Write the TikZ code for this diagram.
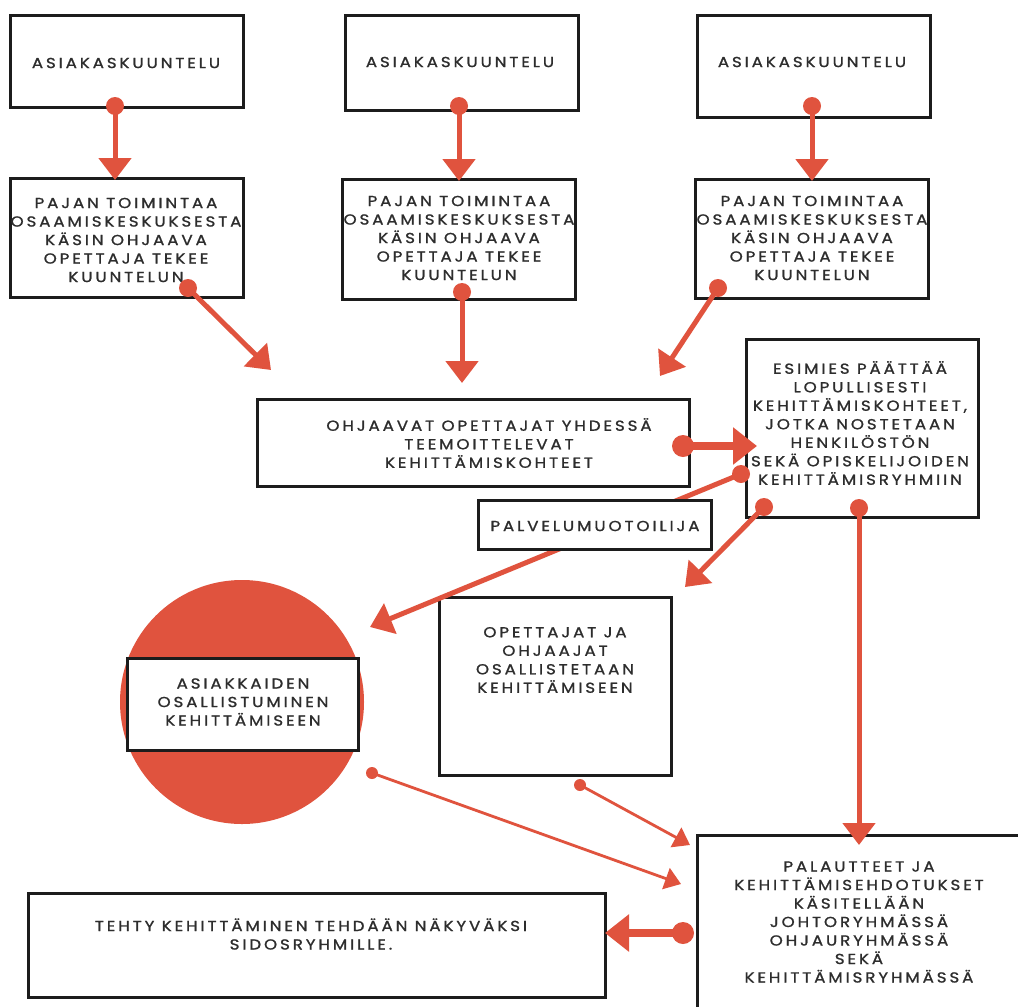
\documentclass[tikz,border=0pt]{standalone}
\usepackage{fontspec}
\newfontfamily\dfont{Poppins}[LetterSpace=20, FakeStretch=1.15, FakeBold=1.2]
\usetikzlibrary{arrows.meta}
\definecolor{accent}{RGB}{224,83,62}
\definecolor{ink}{RGB}{45,45,45}
\definecolor{edge}{RGB}{28,28,28}
\tikzset{
  box/.style={draw=edge, line width=3pt, fill=white, inner sep=0pt, rectangle},
  txt/.style={font=\dfont\fontsize{14.5}{18.5}\selectfont, text=ink, align=center, inner sep=0pt},
  big/.style={draw=accent, line width=5pt, -{Triangle[length=22pt,width=32pt]}},
  heavy/.style={draw=accent, line width=8pt, -{Triangle[length=24pt,width=36pt]}},
  thin/.style={draw=accent, line width=2.8pt, -{Triangle[length=16pt,width=22pt]}},
}
\begin{document}
\begin{tikzpicture}[x=1pt,y=-1pt]
\useasboundingbox (0,0) rectangle (1018,1007);
\clip (0,0) rectangle (1018,1007);
\fill[white] (0,0) rectangle (1018,1007);

% red disc
\node[circle, fill=accent, minimum size=244pt, inner sep=0pt] (disc) at (242,702) {};

% boxes
\node[box, minimum width=233pt, minimum height=92pt]  (A1) at (126.5,61) {};
\node[box, minimum width=233pt, minimum height=95pt]  (A2) at (461.5,62.5) {};
\node[box, minimum width=233pt, minimum height=102pt] (A3) at (813.5,66) {};
\node[box, minimum width=233pt, minimum height=119pt] (P1) at (126.5,237.5) {};
\node[box, minimum width=233pt, minimum height=120pt] (P2) at (458.5,239) {};
\node[box, minimum width=233pt, minimum height=119pt] (P3) at (811.5,238.5) {};
\node[box, minimum width=432pt, minimum height=87pt]  (OH) at (473,442.5) {};
\node[box, minimum width=232pt, minimum height=178pt] (ES) at (862,428) {};
\node[box, minimum width=231pt, minimum height=92pt]  (AS) at (242.5,704) {};
\node[box, minimum width=232pt, minimum height=178pt] (OP) at (555,686) {};
\node[box, minimum width=343pt, minimum height=195pt] (PA) at (868.5,932.5) {};
\node[box, minimum width=577pt, minimum height=104pt] (TE) at (316.5,945) {};

% texts
\node[txt] (tA1) at (126,63) {ASIAKASKUUNTELU};
\node[txt] (tA2) at (460,62) {ASIAKASKUUNTELU};
\node[txt] (tA3) at (812,62) {ASIAKASKUUNTELU};
\node[txt] (tP1) at (126,240) {PAJAN TOIMINTAA\\OSAAMISKESKUKSESTA\\KÄSIN OHJAAVA\\OPETTAJA TEKEE\\KUUNTELUN};
\node[txt] (tP2) at (459,238) {PAJAN TOIMINTAA\\OSAAMISKESKUKSESTA\\KÄSIN OHJAAVA\\OPETTAJA TEKEE\\KUUNTELUN};
\node[txt] (tP3) at (812,238) {PAJAN TOIMINTAA\\OSAAMISKESKUKSESTA\\KÄSIN OHJAAVA\\OPETTAJA TEKEE\\KUUNTELUN};
\node[txt] (tOH) at (489,443) {OHJAAVAT OPETTAJAT YHDESSÄ\\TEEMOITTELEVAT\\KEHITTÄMISKOHTEET};
\node[txt] (tES) at (860,423) {ESIMIES PÄÄTTÄÄ\\LOPULLISESTI\\KEHITTÄMISKOHTEET,\\JOTKA NOSTETAAN\\HENKILÖSTÖN\\SEKÄ OPISKELIJOIDEN\\KEHITTÄMISRYHMIIN};
\node[txt] (tAS) at (243,702) {ASIAKKAIDEN\\OSALLISTUMINEN\\KEHITTÄMISEEN};
\node[txt] (tOP) at (555,660) {OPETTAJAT JA\\OHJAAJAT\\OSALLISTETAAN\\KEHITTÄMISEEN};
\node[txt] (tPA) at (859,922) {PALAUTTEET JA\\KEHITTÄMISEHDOTUKSET\\KÄSITELLÄÄN\\JOHTORYHMÄSSÄ\\OHJAURYHMÄSSÄ\\SEKÄ\\KEHITTÄMISRYHMÄSSÄ};
\node[txt] (tTE) at (311,934) {TEHTY KEHITTÄMINEN TEHDÄÄN NÄKYVÄKSI\\SIDOSRYHMILLE.};

% connector end points
\coordinate (s1) at (115,106);  \coordinate (t1) at (115,180);
\coordinate (s2) at (459,106);  \coordinate (t2) at (459,181);
\coordinate (s3) at (812,106);  \coordinate (t3) at (812,181);
\coordinate (s4) at (188,288);  \coordinate (t4) at (271,370);
\coordinate (s5) at (462,292);  \coordinate (t5) at (462,383);
\coordinate (s6) at (718,288);  \coordinate (t6) at (660,376);
\coordinate (s7) at (683,446);  \coordinate (t7) at (757,446);
\coordinate (s8) at (741,474);  \coordinate (t8) at (370,627);
\coordinate (s9) at (764,507);  \coordinate (t9) at (685,587);
\coordinate (s10) at (859,508); \coordinate (t10) at (859,845);
\coordinate (s11) at (372,773); \coordinate (t11) at (681,884);
\coordinate (s12) at (580,785); \coordinate (t12) at (690,845);
\coordinate (s13) at (683,933); \coordinate (t13) at (605,933);

% connectors
\foreach \i in {1,2,3,4,5,6,8,9,10}{
  \draw[big] (s\i) -- (t\i);
  \fill[accent] (s\i) circle[radius=9];
}
\foreach \i in {7,13}{
  \draw[heavy] (s\i) -- (t\i);
  \fill[accent] (s\i) circle[radius=11];
}
\foreach \i in {11,12}{
  \draw[thin] (s\i) -- (t\i);
  \fill[accent] (s\i) circle[radius=6];
}

% box drawn over the long connector
\node[box, minimum width=233pt, minimum height=49pt] (PV) at (594.5,524.5) {};
\node[txt] (tPV) at (595,526) {PALVELUMUOTOILIJA};
\end{tikzpicture}
\end{document}
